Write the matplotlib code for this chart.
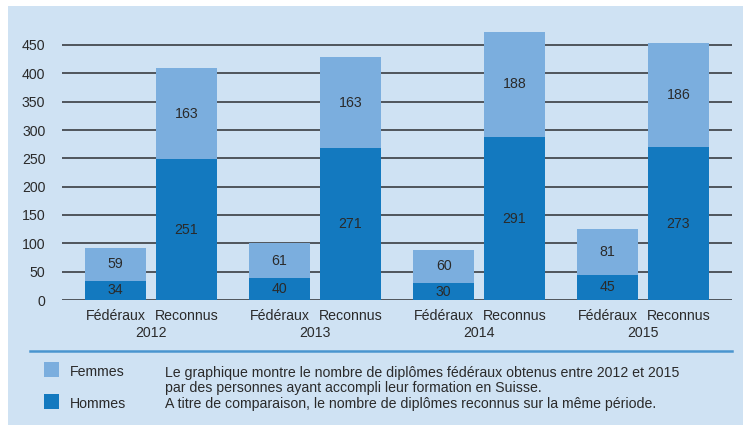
import matplotlib
matplotlib.use("Agg")
import matplotlib.pyplot as plt
from matplotlib.patches import Rectangle
import numpy as np

# ── Data ─────────────────────────────────────────────
years = ["2012", "2013", "2014", "2015"]
kinds = ["Fédéraux", "Reconnus"]
hommes_federaux = [34, 40, 30, 45]
femmes_federaux = [59, 61, 60, 81]
hommes_reconnus = [251, 271, 291, 273]
femmes_reconnus = [163, 163, 188, 186]
yticks = [0, 50, 100, 150, 200, 250, 300, 350, 400, 450]
legend_labels = ["Femmes", "Hommes"]
note_lines = [
    "Le graphique montre le nombre de diplômes fédéraux obtenus entre 2012 et 2015",
    "par des personnes ayant accompli leur formation en Suisse.",
    "A titre de comparaison, le nombre de diplômes reconnus sur la même période.",
]

# ── Style ────────────────────────────────────────────
BG = "#CFE2F3"
COLOR_H = "#1379BF"
COLOR_F = "#7BAEDE"
GRID = "#454A50"
TEXT = "#2A2A2A"
FS = 10.2
W, H = 743, 425

plt.rcParams["font.family"] = ["Liberation Sans", "DejaVu Sans"]

fig = plt.figure(figsize=(W / 100, H / 100), dpi=100, facecolor="white")
fig.patches.append(Rectangle((8 / W, 0), 1 - 8 / W, 1 - 6 / H,
                             transform=fig.transFigure, facecolor=BG,
                             edgecolor="none", zorder=-10))

# axes: x 62..732 px, y=0 at 300 px, 0.567 px per unit
ymax = 480
px_per_unit = 255 / 450
bottom_px = 300
top_px = bottom_px - ymax * px_per_unit
rect = [62 / W, (H - bottom_px) / H, (732 - 62) / W, (bottom_px - top_px) / H]

# grid/tick axes (the original's bars sit on a slightly compressed scale)
axg = fig.add_axes(rect)
axg.set_facecolor("none")
axg.set_zorder(1)
axg.set_ylim(0, ymax)
for t in yticks:
    axg.axhline(t, color=GRID, linewidth=1.3, zorder=1)
axg.set_yticks(yticks)
axg.set_yticklabels([str(t) for t in yticks], fontsize=FS, color=TEXT)
axg.tick_params(axis="y", length=0, pad=12)
axg.set_xticks([])
for s in axg.spines.values():
    s.set_visible(False)

ax = fig.add_axes(rect)
ax.set_facecolor("none")
ax.set_zorder(2)
bar_scale = 0.988
ax.set_ylim(0, ymax / bar_scale)

x = np.arange(len(years))
off = 0.216
bw = 0.372
for xs, hv, fv in [(x - off, hommes_federaux, femmes_federaux),
                   (x + off, hommes_reconnus, femmes_reconnus)]:
    ax.bar(xs, hv, width=bw, color=COLOR_H, zorder=3)
    ax.bar(xs, fv, width=bw, bottom=hv, color=COLOR_F, zorder=3)
    for xi, h, f in zip(xs, hv, fv):
        ax.text(xi, h / 2, str(h), ha="center", va="center",
                fontsize=FS, color=TEXT, zorder=4)
        ax.text(xi, h + f / 2, str(f), ha="center", va="center",
                fontsize=FS, color=TEXT, zorder=4)

ax.set_xlim(-0.543, 3.543)
ax.set_xticks([])
ax.set_yticks([])
for s in ax.spines.values():
    s.set_visible(False)

# category labels
for i, yr in enumerate(years):
    for xi, k in zip([i - off, i + off], kinds):
        ax.text(xi, -16 / px_per_unit, k, ha="center", va="center",
                fontsize=FS, color=TEXT, clip_on=False)
    ax.text(i, -33 / px_per_unit, yr, ha="center", va="center",
            fontsize=FS, color=TEXT, clip_on=False)

# separator line
fig.add_artist(plt.Line2D([30 / W, 732 / W], [1 - 351 / H, 1 - 351 / H],
                          color="#4A95CF", linewidth=1.8))

# legend
for (ytop, lab, col) in [(362, legend_labels[0], COLOR_F),
                         (394, legend_labels[1], COLOR_H)]:
    fig.patches.append(Rectangle((44 / W, 1 - (ytop + 15) / H), 15 / W, 15 / H,
                                 transform=fig.transFigure, facecolor=col,
                                 edgecolor="none"))
    fig.text(70 / W, 1 - (ytop + 10.5) / H, lab, ha="left", va="center",
             fontsize=FS, color=TEXT)

for yp, line in zip([372.5, 388, 404], note_lines):
    fig.text(165 / W, 1 - yp / H, line, ha="left", va="center",
             fontsize=FS, color=TEXT)

fig.savefig("out.png", dpi=100, facecolor="white")
